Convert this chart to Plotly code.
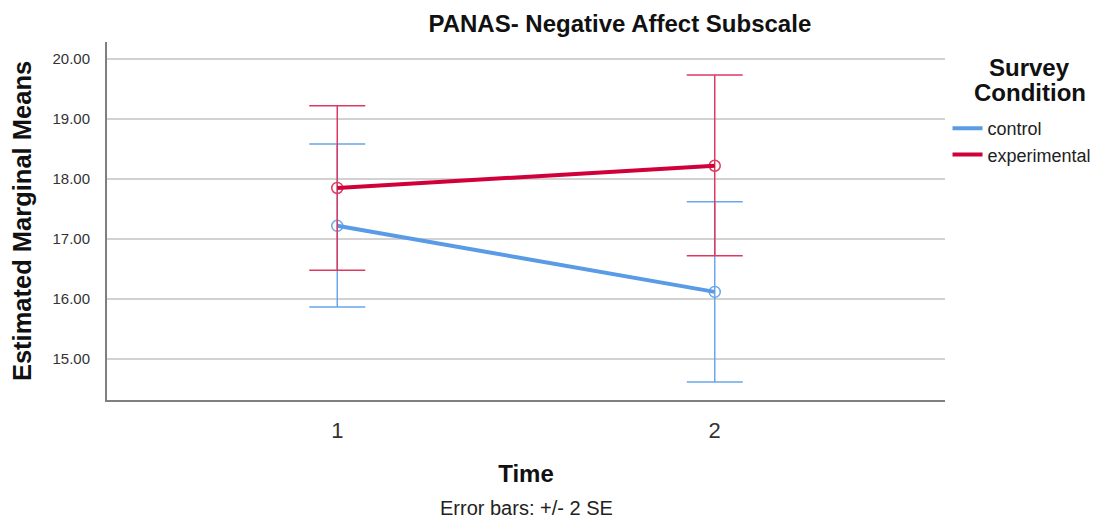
import plotly.graph_objects as go

times = [1, 2]
time_labels = ["1", "2"]
control_mean = [17.22, 16.12]
control_upper = [18.58, 17.62]
control_lower = [15.87, 14.62]
exp_mean = [17.85, 18.22]
exp_upper = [19.22, 19.73]
exp_lower = [16.48, 16.72]
y_ticks = [15, 16, 17, 18, 19, 20]

blue = "#5a9be6"
blue_err = "#6aa6ec"
red = "#d1003a"
red_err = "#dc3a60"

REG = "Liberation Sans, Arial, sans-serif"

fig = go.Figure()

def add_series(name, mean, upper, lower, col, ecol):
    plus = [u - m for u, m in zip(upper, mean)]
    minus = [m - l for m, l in zip(mean, lower)]
    fig.add_trace(go.Scatter(
        x=times, y=mean, mode="markers", showlegend=False, hoverinfo="skip",
        marker=dict(symbol="circle-open", size=11, color=ecol, line=dict(width=1.5, color=ecol)),
        error_y=dict(type="data", symmetric=False, array=plus, arrayminus=minus,
                     color=ecol, thickness=1.5, width=28),
    ))
    fig.add_trace(go.Scatter(
        x=times, y=mean, mode="lines", name=name,
        line=dict(color=col, width=4),
    ))

add_series("control", control_mean, control_upper, control_lower, blue, blue_err)
add_series("experimental", exp_mean, exp_upper, exp_lower, red, red_err)

fig.update_layout(
    width=1099, height=513,
    margin=dict(l=99, r=162, t=34, b=121, autoexpand=False),
    paper_bgcolor="white", plot_bgcolor="white",
    font=dict(family=REG, color="#222"),
    title=dict(text="<b>PANAS- Negative Affect Subscale</b>", xref="paper", x=0.612, xanchor="center",
               y=0.969, yanchor="middle", font=dict(size=24, color="#111")),
    xaxis=dict(range=[0.39, 2.61], tickvals=times, ticktext=time_labels,
               showgrid=False, zeroline=False, showline=True, linecolor="#7f7f7f", linewidth=2,
               ticks="outside", ticklen=10, tickcolor="rgba(0,0,0,0)", automargin=False,
               tickfont=dict(size=22, color="#333"),
               title=dict(text="<b>Time</b>", font=dict(size=24, color="#111"), standoff=23)),
    yaxis=dict(range=[14.32, 20.28], tickvals=y_ticks, tickformat=".2f",
               showgrid=True, gridcolor="#d2d2d2", gridwidth=2, zeroline=False,
               showline=True, linecolor="#7f7f7f", linewidth=2,
               ticks="outside", ticklen=12, tickcolor="rgba(0,0,0,0)", automargin=False,
               tickfont=dict(size=15, color="#333"),
               title=dict(text="<b>Estimated Marginal Means</b>", font=dict(size=25.5, color="#111"), standoff=21)),
    legend=dict(x=1.003, xanchor="left", y=0.81, yanchor="top",
                font=dict(size=18, color="#222"),
                bgcolor="rgba(0,0,0,0)", itemwidth=30, tracegroupgap=0),
    annotations=[
        dict(text="<b>Survey</b>", xref="paper", yref="paper", x=1.101, y=0.930,
             xanchor="center", yanchor="middle", showarrow=False, font=dict(size=24, color="#111")),
        dict(text="<b>Condition</b>", xref="paper", yref="paper", x=1.101, y=0.858,
             xanchor="center", yanchor="middle", showarrow=False, font=dict(size=24, color="#111")),
        dict(text="Error bars: +/- 2 SE", xref="paper", yref="paper", x=0.5, y=-0.302,
             xanchor="center", yanchor="middle", showarrow=False,
             font=dict(size=20, color="#222")),
    ],
)

fig.write_html("out.html")
